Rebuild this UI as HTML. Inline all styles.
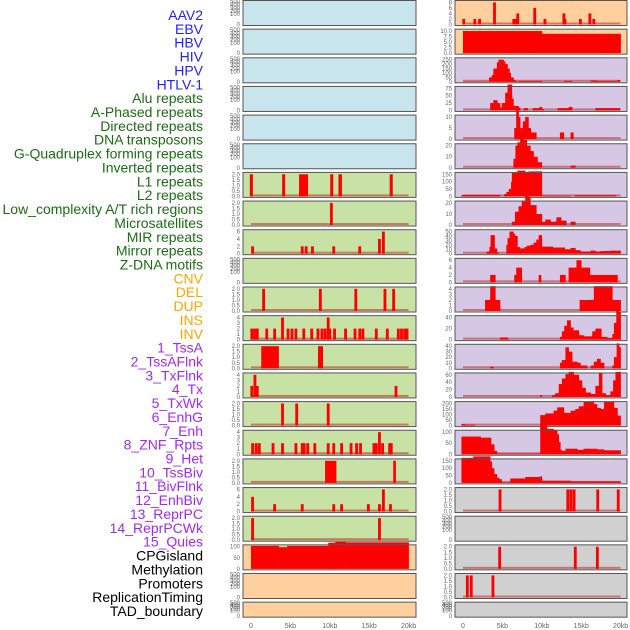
<!DOCTYPE html>
<html><head><meta charset="utf-8">
<style>
html,body{margin:0;padding:0;background:#fff;width:630px;height:630px;overflow:hidden}
svg{display:block;font-family:"Liberation Sans",sans-serif}
</style></head>
<body>
<svg id="chart" width="630" height="630" viewBox="0 0 630 630" xmlns="http://www.w3.org/2000/svg"></svg>
<script>
// ---- data ----
const labelNames=["AAV2","EBV","HBV","HIV","HPV","HTLV-1","Alu repeats","A-Phased repeats","Directed repeats","DNA transposons","G-Quadruplex forming repeats","Inverted repeats","L1 repeats","L2 repeats","Low_complexity A/T rich regions","Microsatellites","MIR repeats","Mirror repeats","Z-DNA motifs","CNV","DEL","DUP","INS","INV","1_TssA","2_TssAFlnk","3_TxFlnk","4_Tx","5_TxWk","6_EnhG","7_Enh","8_ZNF_Rpts","9_Het","10_TssBiv","11_BivFlnk","12_EnhBiv","13_ReprPC","14_ReprPCWk","15_Quies","CPGisland","Methylation","Promoters","ReplicationTiming","TAD_boundary"];
const labelGroups=["v","v","v","v","v","v","r","r","r","r","r","r","r","r","r","r","r","r","r","s","s","s","s","s","c","c","c","c","c","c","c","c","c","c","c","c","c","c","c","o","o","o","o","o"];
const xTickValues=[0,5,10,15,20];
const xTickLabels=["0","5kb","10kb","15kb","20kb"];
const emptyTicks=[0,100,200,300,400,500];
const ticks2=[0,0.5,1,1.5,2];
const ticks4=[0,1,2,3,4];
const ticks6=[0,2,4,6];
// point bars: [center_kb, value]
const tAPhased=[[10.2,2]];
const tDirected=[[0.2,2],[6.5,2],[7,2],[7.8,2],[10.5,2],[13.8,2],[16.3,4],[16.8,6]];
const tGquad=[[1.6,2],[8.8,2],[13.3,2],[17,2],[18.1,2]];
const tInverted=[[0.1,2],[0.45,2],[0.8,2],[2,2],[3,2],[4,4],[4.7,2],[5.2,2],[5.7,2],[6.7,2],[7.7,2],[8.5,2],[9,2],[9.4,2],[9.8,4],[10,2],[10.6,2],[12,2],[13.2,2],[13.8,2],[14.2,2],[15.9,2],[17.3,2],[18.7,2],[19.1,2],[19.5,2],[19.8,2]];
const tL2=[[0.1,2],[0.5,4],[0.8,2],[18.4,2]];
const tLowc=[[4,2],[5.8,2],[9.8,2]];
const tMicro=[[0.2,2],[0.65,2],[1.05,2],[2.8,2],[4,2],[5.7,2],[6.5,2],[6.75,2],[7.2,2],[8.1,2],[9.8,2],[10.5,2],[11.5,2],[12.7,2],[13.4,2],[13.9,2],[15.6,2],[15.9,2],[16.3,4],[16.7,2],[17.6,2],[17.8,2]];
const tMirror=[[0.2,4],[3,2],[6.5,2],[10.5,2],[11.5,2],[14.9,2],[16.3,2],[16.8,6],[17.7,2]];
const tZDNA=[[0.2,2],[16.3,2]];
const tINS=[[0.1,2],[1.5,2],[2.1,2],[4,8],[6.45,2],[6.75,2],[6.95,4],[9.1,6],[10.4,2],[12.8,4],[12.95,2],[14.9,2],[16.1,4],[16.6,2]];
const tBivFlnk=[[4.7,2],[13.3,2],[13.7,2],[14.1,2],[17.1,2],[19.7,2]];
const tMethyl=[[4.65,2],[14.25,2],[17.05,2]];
const tPromot=[[0.55,2],[1.05,2],[3.8,2]];
// step segments: [start_kb, end_kb, value]
const sAlu=[[-0.15,0.2,2],[3.95,4.3,2],[6.1,7.2,2],[10.05,10.4,2],[11.1,11.5,2],[17.6,17.95,2]];
const sL1=[[1.3,3.5,2],[8.5,9.1,2]];
const sMIR=[[9.4,10.8,2],[18.05,18.35,2]];
const sCNV=[[0,3.5,104],[3.5,4.6,98],[4.6,9.8,104],[9.8,10.7,118],[10.7,12,122],[12,20,120]];
const sINV=[[0,10,10],[10,20,8.75]];
const sTssA=[[0,3.3,3],[3.3,3.65,50],[3.65,3.85,75],[3.85,4.3,150],[4.3,4.5,220],[4.5,5.15,250],[5.15,5.35,230],[5.35,5.65,200],[5.65,5.9,150],[5.9,6.05,100],[6.05,6.4,50],[6.4,6.6,20],[6.6,6.85,10],[7.05,10,10],[12.8,13.85,10],[16.2,17,15],[17,19.6,10],[19.6,19.9,20]];
const sTssAFlnk=[[3.45,3.85,25],[3.85,4.35,35],[4.35,4.7,25],[4.7,4.9,10],[4.9,5.35,25],[5.35,5.65,60],[5.65,6.2,88],[6.2,6.4,40],[6.4,6.85,15],[6.85,7.25,10],[7.7,8.2,8],[8.85,9.7,8],[9.7,10,12],[10,10.25,5],[12,13.4,8],[13.4,13.85,12],[16.8,19.9,8]];
const sTxFlnk=[[6.5,6.75,5],[6.75,7.05,15],[7.05,7.25,10],[7.25,7.6,5],[7.6,7.9,8],[7.9,8.3,10],[8.3,8.6,5],[8.6,9.3,3],[12.3,12.8,3],[13.65,14,3]];
const sTx=[[6.4,6.65,8],[6.65,6.9,20],[6.9,7.25,23],[7.25,7.7,27],[7.7,8.1,25],[8.1,8.55,20],[8.55,8.95,15],[8.95,9.45,10],[9.45,10,5],[13.65,14.25,2]];
const sTxWk=[[-0.2,4.7,10],[5.2,5.5,15],[5.5,5.8,30],[5.8,6.1,50],[6.1,6.2,100],[6.2,6.9,160],[6.9,7.9,175],[7.9,8.3,165],[8.3,10,170],[10,13.65,5],[14.15,19.4,8]];
const sEnhG=[[6.2,6.6,3],[6.6,7.05,12],[7.05,7.45,17],[7.45,7.9,22],[7.9,8.3,30],[8.3,8.55,25],[8.55,9.3,18],[9.3,10,10],[10,10.45,3],[10.45,11.1,5],[11.1,11.85,3],[11.85,12.45,7],[12.45,13.1,4],[13.65,14.25,3]];
const sEnh=[[3,3.35,5],[3.35,3.5,15],[3.5,4,42],[4,4.3,12],[4.3,4.5,3],[5.5,5.65,20],[5.65,5.9,35],[5.9,6.4,50],[6.4,6.6,45],[6.6,6.9,40],[6.9,7.2,15],[7.2,7.8,12],[7.8,8.1,15],[8.1,8.55,18],[8.55,8.95,20],[8.95,9.3,25],[9.3,9.6,32],[9.6,10,42],[10,11.4,16],[11.4,12.3,14],[12.3,12.9,14],[12.9,13.65,10],[13.65,14.25,13],[14.25,14.9,8],[14.9,16.2,5],[16.2,16.8,7],[16.8,17.45,5],[17.45,18.7,6],[18.7,20,7]];
const sZNF=[[3.45,4.1,2],[6.5,6.75,2],[6.75,7.45,4],[9.6,9.9,2],[12.3,13,2],[13.4,14.4,4],[14.4,15,6],[15,16.1,4],[16.1,19.6,2]];
const sHet=[[2.8,3.45,2],[3.45,4.1,4.5],[4.1,4.7,2],[14.8,16.6,2],[16.6,18.95,4.5],[18.95,20,2]];
const sTssBiv=[[4.7,5.7,4],[12.3,12.55,5],[12.55,12.85,15],[12.85,13.2,25],[13.2,13.65,35],[13.65,14,22],[14,14.7,17],[14.7,15.3,8],[15.3,16.4,6],[16.4,16.8,15],[16.8,17.55,20],[17.55,18.3,5],[18.3,18.95,3],[18.95,19.15,10],[19.15,19.45,30],[19.45,19.8,55],[19.8,20,50]];
const sEnhBiv=[[3.45,3.85,3],[12.3,12.55,10],[12.55,13,15],[13,13.4,38],[13.4,13.85,30],[13.85,14.5,12],[14.5,14.9,10],[14.9,15.75,5],[16.2,16.6,5],[16.6,17,12],[17,17.45,17],[17.45,17.9,10],[18.95,19.15,5],[19.15,19.5,20],[19.5,19.8,45],[19.8,20,38]];
const sReprPC=[[9.8,10,5],[11.3,11.7,5],[11.7,12.15,10],[12.15,12.55,35],[12.55,13,50],[13,13.4,62],[13.4,14.05,68],[14.05,14.7,60],[14.7,15.1,45],[15.1,15.55,25],[15.55,16.2,12],[16.2,16.8,8],[16.8,17.25,30],[17.25,17.65,65],[17.65,18.1,10],[18.1,18.7,5],[18.7,19.05,15],[19.05,19.35,45],[19.35,20,68]];
const sReprPCWk=[[-0.2,0.25,15],[0.25,1.5,8],[9.8,10.45,95],[10.45,11.5,110],[11.5,11.95,135],[11.95,12.8,165],[12.8,13.65,115],[13.65,14.25,135],[14.25,14.7,150],[14.7,15.3,175],[15.3,16.6,215],[16.6,17,195],[17,17.45,160],[17.45,17.9,150],[17.9,19.15,215],[19.15,19.6,160],[19.6,20,90]];
const sQuiesA=[[-0.2,2.25,80],[2.25,3.55,75],[3.55,3.95,45],[3.95,4.3,15],[4.3,9.8,3],[9.8,10.65,135],[10.65,11.5,115],[11.5,11.95,110],[11.95,12.15,90],[12.15,12.35,55],[12.35,12.55,20],[12.55,13,15],[13,13.65,25],[13.65,14.5,25],[14.5,15.3,20],[15.3,17,25],[17,17.9,22],[17.9,20,18]];
const sQuies=[[-0.2,1.3,170],[1.3,3.45,180],[3.45,3.65,145],[3.65,3.95,100],[3.95,4.3,60],[4.3,4.6,35],[4.6,4.9,25],[4.9,6,3],[6,6.4,30],[6.4,7.9,30],[7.9,9.8,40],[9.8,10,45],[10,13.65,15],[13.65,20,10]];
// tracks: [column,row,type,data,ticks]
const tracks=[
 [0,0,"e",[],emptyTicks],[0,1,"e",[],emptyTicks],[0,2,"e",[],emptyTicks],[0,3,"e",[],emptyTicks],[0,4,"e",[],emptyTicks],[0,5,"e",[],emptyTicks],
 [0,6,"s",sAlu,ticks2],[0,7,"p",tAPhased,ticks2],[0,8,"p",tDirected,ticks6],[0,9,"e",[],emptyTicks],[0,10,"p",tGquad,ticks2],[0,11,"p",tInverted,ticks4],
 [0,12,"s",sL1,ticks2],[0,13,"p",tL2,ticks4],[0,14,"p",tLowc,ticks2],[0,15,"p",tMicro,ticks4],[0,16,"s",sMIR,ticks2],[0,17,"p",tMirror,ticks6],[0,18,"p",tZDNA,ticks2],
 [0,19,"s",sCNV,[0,50,100]],[0,20,"e",[],emptyTicks],[0,21,"e",[],emptyTicks],
 [1,0,"p",tINS,[0,2,4,6,8]],[1,1,"s",sINV,[0,2.5,5,7.5,10]],
 [1,2,"s",sTssA,[0,50,100,150,200,250]],[1,3,"s",sTssAFlnk,[0,25,50,75]],[1,4,"s",sTxFlnk,[0,5,10]],[1,5,"s",sTx,[0,10,20]],
 [1,6,"s",sTxWk,[0,50,100,150]],[1,7,"s",sEnhG,[0,10,20]],[1,8,"s",sEnh,[0,10,20,30,40,50]],[1,9,"s",sZNF,[0,2,4,6]],
 [1,10,"s",sHet,[0,1,2,3,4]],[1,11,"s",sTssBiv,[0,20,40]],[1,12,"s",sEnhBiv,[0,10,20,30,40]],[1,13,"s",sReprPC,[0,20,40,60]],
 [1,14,"s",sReprPCWk,[0,50,100,150,200]],[1,15,"s",sQuiesA,[0,50,100]],[1,16,"s",sQuies,[0,50,100,150]],
 [1,17,"p",tBivFlnk,ticks2],[1,18,"e",[],emptyTicks],[1,19,"p",tMethyl,ticks2],[1,20,"p",tPromot,ticks2],[1,21,"e",[],emptyTicks]
];
// ---- layout ----
const NS="http://www.w3.org/2000/svg";
const svg=document.getElementById("chart");
const groupColor={v:"#1f1fff",r:"#1a6e12",s:"#ffa500",c:"#a229f2",o:"#000"};
const colLeft=[243,455], colRight=[416,627], colZero=[251,463], pxPerKb=7.88;
function xScale(col,kb){return colZero[col]+kb*pxPerKb;}
function rowTop(r){return 0.5+r*28.65;}
function rowH(r){return r===21?15:25;}
function bgColor(col,r){
 if(col===0){if(r<6)return "#c8e4ec";if(r<19)return "#c8e1a5";return "#ffcf9e";}
 if(r<2)return "#ffcf9e";if(r<17)return "#d6c8e4";return "#d0d0d0";
}
function mk(tag,attrs,parent){const e=document.createElementNS(NS,tag);for(const k in attrs)e.setAttribute(k,attrs[k]);(parent||svg).appendChild(e);return e;}

// labels
labelNames.forEach((n,i)=>{
 const t=mk("text",{x:203,y:20+i*13.86,"text-anchor":"end","font-size":"14",fill:groupColor[labelGroups[i]]});
 
 
 t.textContent=n;
});

tracks.forEach((tr,idx)=>{
 const [col,r,type,data,tk]=tr;
 const top=rowTop(r), h=rowH(r), x0=colLeft[col], x1=colRight[col];
 const g=mk("g",{});
 
 
 mk("rect",{x:x0,y:top,width:x1-x0,height:h,fill:bgColor(col,r)},g);
 const bottom=top+h-1;
 const maxT=tk[tk.length-1];
 const ymax=type==="e"?maxT:maxT*1.04;
 const yScale=v=>bottom-(v/ymax)*(h-2);
 const useDec=tk.some(z=>z%1!==0);
 tk.forEach((v,j)=>{
  let yy;
  if(type==="e"){yy=j===0?bottom:top+1+(h-2)*0.55*(1-(v-100)/400);}
  else yy=yScale(v);
  const t=mk("text",{x:x0-3,y:yy+2,"text-anchor":"end","font-size":"6",fill:"#666"},g);
  
  
  t.textContent=useDec?v.toFixed(1):String(v);
 });
 if(type!=="e"){
  const bl=mk("rect",{x:xScale(col,0),y:bottom-2,width:20*pxPerKb,height:2,fill:"rgba(190,0,0,0.45)"},g);
  
  
 }
 if(type==="p"){
  data.forEach(d=>{
   const b=mk("rect",{x:xScale(col,d[0]-0.18),y:yScale(d[1]),width:0.36*pxPerKb,height:bottom-yScale(d[1]),fill:"#ff0000"},g);
   
   
  });
 } else if(type==="s"){
  data.forEach(d=>{
   const b=mk("rect",{x:xScale(col,d[0]),y:yScale(d[2]),width:(d[1]-d[0])*pxPerKb+0.3,height:bottom-yScale(d[2]),fill:"#ff0000"},g);
   
   
  });
 }
 mk("rect",{x:x0,y:top,width:x1-x0,height:h,fill:"none",stroke:"#555","stroke-width":1},g);
});

// x axes
[0,1].forEach(col=>{
 xTickValues.forEach((v,i)=>{
  const t=mk("text",{x:xScale(col,v),y:628,"text-anchor":"middle","font-size":"7",fill:"#666"});
  
  
  t.textContent=xTickLabels[i];
 });
});
</script>
</body></html>
